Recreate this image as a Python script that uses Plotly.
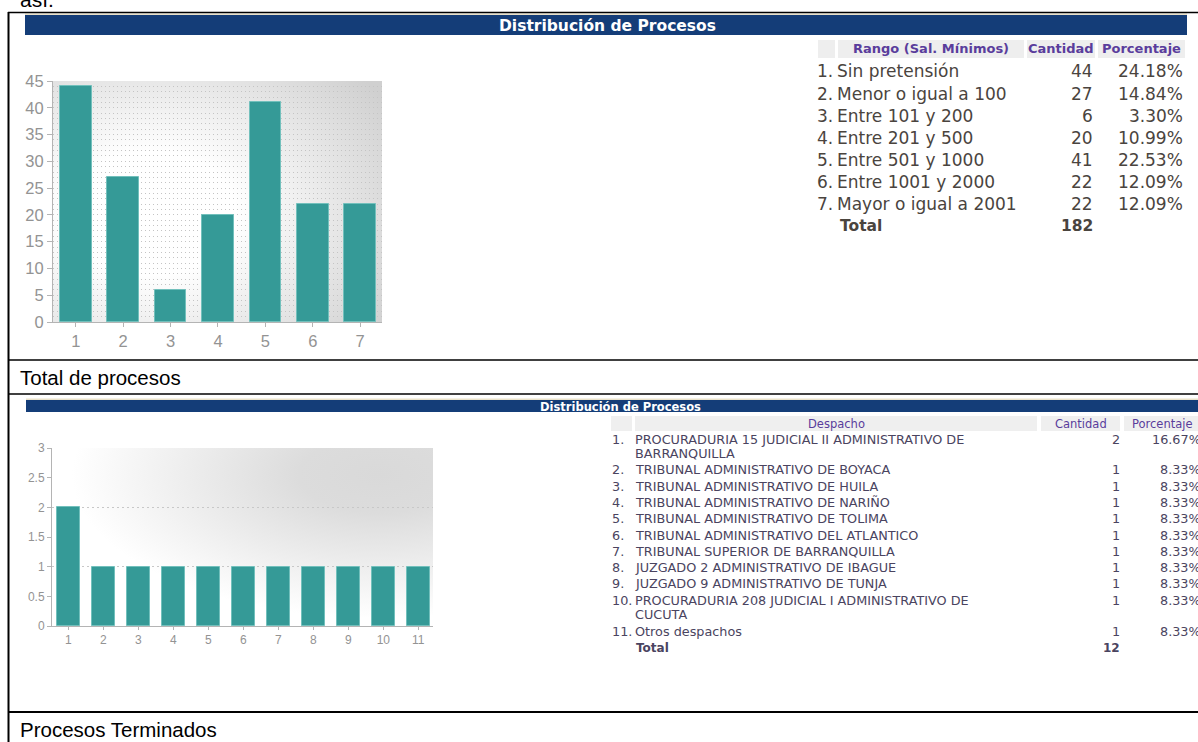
import base64
import plotly.graph_objects as go

W, H = 1198, 742

# ---------------- data ----------------
cat1 = [1, 2, 3, 4, 5, 6, 7]
rangos = ["Sin pretensión", "Menor o igual a 100", "Entre 101 y 200", "Entre 201 y 500",
          "Entre 501 y 1000", "Entre 1001 y 2000", "Mayor o igual a 2001"]
cantidad1 = [44, 27, 6, 20, 41, 22, 22]
porcentaje1 = ["24.18%", "14.84%", "3.30%", "10.99%", "22.53%", "12.09%", "12.09%"]
total1 = 182

cat2 = [1, 2, 3, 4, 5, 6, 7, 8, 9, 10, 11]
despachos = [["PROCURADURIA 15 JUDICIAL II ADMINISTRATIVO DE", "BARRANQUILLA"],
             ["TRIBUNAL ADMINISTRATIVO DE BOYACA"],
             ["TRIBUNAL ADMINISTRATIVO DE HUILA"],
             ["TRIBUNAL ADMINISTRATIVO DE NARIÑO"],
             ["TRIBUNAL ADMINISTRATIVO DE TOLIMA"],
             ["TRIBUNAL ADMINISTRATIVO DEL ATLANTICO"],
             ["TRIBUNAL SUPERIOR DE BARRANQUILLA"],
             ["JUZGADO 2 ADMINISTRATIVO DE IBAGUE"],
             ["JUZGADO 9 ADMINISTRATIVO DE TUNJA"],
             ["PROCURADURIA 208 JUDICIAL I ADMINISTRATIVO DE", "CUCUTA"],
             ["Otros despachos"]]
cantidad2 = [2, 1, 1, 1, 1, 1, 1, 1, 1, 1, 1]
porcentaje2 = ["16.67%", "8.33%", "8.33%", "8.33%", "8.33%", "8.33%", "8.33%",
               "8.33%", "8.33%", "8.33%", "8.33%"]
total2 = 12

title_txt = "Distribución de Procesos"
hdr1 = ["Rango (Sal. Mínimos)", "Cantidad", "Porcentaje"]
hdr2 = ["Despacho", "Cantidad", "Porcentaje"]

# ---------------- helpers ----------------
def X(p):
    return p / W


def Y(p):
    return 1 - p / H


BAR = "#359a97"
BAR_LINE = "#72c0bc"
AXC = "#b4b4b4"
TICKC = "#939393"
NAVY = "#143d78"
PURPLE = "#5a3d9c"
TXT1 = "#4a443e"
TXT2 = "#4a4460"
VER = "DejaVu Sans"
ARIAL = "Liberation Sans, Arial"

fig = go.Figure()
fig.add_trace(go.Bar(x=cat1, y=cantidad1, width=0.67, marker=dict(color=BAR, line=dict(color=BAR_LINE, width=1)),
                     xaxis="x", yaxis="y", showlegend=False))
fig.add_trace(go.Bar(x=cat2, y=cantidad2, width=0.65, marker=dict(color=BAR, line=dict(color=BAR_LINE, width=1)),
                     xaxis="x2", yaxis="y2", showlegend=False))

shapes = []
annotations = []


def rect(x0, y0, x1, y1, color):
    shapes.append(dict(type="rect", xref="paper", yref="paper", x0=X(x0), x1=X(x1), y0=Y(y1), y1=Y(y0),
                       fillcolor=color, line=dict(width=0), layer="below"))


def line(x0, y0, x1, y1, w=1.5, color="#000000"):
    shapes.append(dict(type="line", xref="paper", yref="paper", x0=X(x0), x1=X(x1), y0=Y(y0), y1=Y(y1),
                       line=dict(color=color, width=w)))


def ann(text, x, y, xa="left", ya="middle", size=12, color="#000", family=VER, bold=False):
    annotations.append(dict(text=f"<b>{text}</b>" if bold else text, x=X(x), y=Y(y), xref="paper", yref="paper",
                            xanchor=xa, yanchor=ya, showarrow=False, align=xa if xa != "center" else "center",
                            font=dict(size=size, color=color, family=family)))


# document borders
line(8.5, 12, 8.5, 742, w=2)
line(8, 12.5, 1198, 12.5, w=1.5)
line(8, 360, 1198, 360, w=1.5)
line(8, 394, 1198, 394, w=1.5)
line(8, 712, 1198, 712, w=2)

# surrounding document text
ann("así.", 18, 13, ya="bottom", size=21, color="#000", family=ARIAL)
ann("Total de procesos", 18, 377, size=20.5, color="#000", family=ARIAL)
ann("Procesos Terminados", 18, 729, size=20.5, color="#000", family=ARIAL)

# header bars
rect(25, 13.5, 1187, 15.5, "#e9e1c9")
rect(25, 15, 1187, 35, NAVY)
ann(title_txt, 607, 26, xa="center", size=15.5, color="#ffffff", bold=True)
rect(26, 398.5, 1198, 400.5, "#e9e1c9")
rect(26, 400, 1198, 412, NAVY)
ann(title_txt, 620, 406.5, xa="center", size=11.5, color="#ffffff", bold=True)

# ---------- table 1 ----------
rect(818, 40, 835, 58, "#eeeeee")
rect(838, 40, 1024, 58, "#eeeeee")
rect(1027, 40, 1095, 58, "#eeeeee")
rect(1098, 40, 1185, 58, "#eeeeee")
ann(hdr1[0], 931, 49, xa="center", size=13, color=PURPLE, bold=True)
ann(hdr1[1], 1061, 49, xa="center", size=13, color=PURPLE, bold=True)
ann(hdr1[2], 1141, 49, xa="center", size=13, color=PURPLE, bold=True)
y0 = 71.5
step = 22.1
FS1 = 17
for i, (r, c, p) in enumerate(zip(rangos, cantidad1, porcentaje1)):
    yy = y0 + i * step
    ann(f"{i + 1}.", 815, yy, size=FS1, color=TXT1)
    ann(r, 835, yy, size=FS1, color=TXT1)
    ann(str(c), 1095, yy, xa="right", size=FS1, color=TXT1)
    ann(p, 1185, yy, xa="right", size=FS1, color=TXT1)
yy = y0 + len(rangos) * step
ann("Total", 838, yy, size=15.5, color=TXT1, bold=True)
ann(str(total1), 1095, yy, xa="right", size=15.5, color=TXT1, bold=True)

# ---------- table 2 ----------
rect(611, 416, 632, 431, "#efefef")
rect(635, 416, 1037, 431, "#efefef")
rect(1041, 416, 1120, 431, "#efefef")
rect(1124, 416, 1200, 431, "#efefef")
ann(hdr2[0], 836, 423.5, xa="center", size=11.5, color=PURPLE)
ann(hdr2[1], 1081, 423.5, xa="center", size=11.5, color=PURPLE)
ann(hdr2[2], 1162, 423.5, xa="center", size=11.5, color=PURPLE)
yc = 439
FS2 = 12.8
for i, (d, c, p) in enumerate(zip(despachos, cantidad2, porcentaje2)):
    ann(f"{i + 1}.", 610, yc, size=FS2, color=TXT2)
    for k, part in enumerate(d):
        ann(part, 633, yc + k * 14.4, size=FS2, color=TXT2)
    ann(str(c), 1122, yc, xa="right", size=FS2, color=TXT2)
    ann(p, 1203, yc, xa="right", size=FS2, color=TXT2)
    yc += 16.3 + 14.6 * (len(d) - 1)
ann("Total", 634, yc + 1, size=FS2 - 0.8, color=TXT2, bold=True)
ann(str(total2), 1122, yc + 1, xa="right", size=FS2 - 0.8, color=TXT2, bold=True)


# ---------- background gradients ----------
def svg_uri(svg):
    return "data:image/svg+xml;base64," + base64.b64encode(svg.encode()).decode()


svg1 = ('<svg xmlns="http://www.w3.org/2000/svg" width="330" height="241" viewBox="0 0 1 1" preserveAspectRatio="none">'
        '<defs><radialGradient id="g" cx="0.3" cy="0.55" r="0.85">'
        '<stop offset="0" stop-color="#ffffff"/><stop offset="0.3" stop-color="#ffffff"/>'
        '<stop offset="1" stop-color="#d0d0d0"/></radialGradient></defs>'
        '<rect x="0" y="0" width="1" height="1" fill="url(#g)"/></svg>')
svg2 = ('<svg xmlns="http://www.w3.org/2000/svg" width="381" height="178" viewBox="0 0 1 1" preserveAspectRatio="none">'
        '<defs><radialGradient id="g" cx="0.86" cy="0.15" r="0.85">'
        '<stop offset="0" stop-color="#d9d9d9"/><stop offset="0.25" stop-color="#dcdcdc"/>'
        '<stop offset="0.95" stop-color="#ffffff"/></radialGradient></defs>'
        '<rect x="0" y="0" width="1" height="1" fill="url(#g)"/></svg>')

images = [
    dict(source=svg_uri(svg1), xref="x domain", yref="y domain", x=0, y=1, sizex=1, sizey=1,
         xanchor="left", yanchor="top", sizing="stretch", layer="below"),
    dict(source=svg_uri(svg2), xref="x2 domain", yref="y2 domain", x=0, y=1, sizex=1, sizey=1,
         xanchor="left", yanchor="top", sizing="stretch", layer="below"),
]

fig.update_layout(
    width=W, height=H, margin=dict(l=0, r=0, t=0, b=0, pad=0, autoexpand=False),
    paper_bgcolor="#ffffff", plot_bgcolor="rgba(0,0,0,0)", showlegend=False,
    bargap=0, shapes=shapes, annotations=annotations, images=images,
    xaxis=dict(domain=[X(53), X(382)], range=[0.52, 7.46], tickvals=cat1, showline=True, linecolor=AXC,
               ticks="outside", ticklen=4, tickcolor=AXC, showgrid=False, zeroline=False, automargin=False,
               tickfont=dict(size=16.5, color=TICKC, family=ARIAL), anchor="y", fixedrange=True),
    yaxis=dict(domain=[Y(322), Y(81)], range=[0, 45], dtick=5, showline=True, linecolor=AXC,
               ticks="outside", ticklen=5, tickcolor=AXC, showgrid=True, gridcolor="#c4c4c4",
               griddash="1px,3px", gridwidth=1, zeroline=False, automargin=False,
               minor=dict(dtick=1, showgrid=True, gridcolor="#c4c4c4", griddash="1px,3px", ticklen=0),
               tickfont=dict(size=16.5, color=TICKC, family=ARIAL), anchor="x", fixedrange=True),
    xaxis2=dict(domain=[X(52), X(433)], range=[0.53, 11.42], tickvals=cat2, showline=True, linecolor=AXC,
                ticks="outside", ticklen=3, tickcolor=AXC, showgrid=False, zeroline=False, automargin=False,
                tickfont=dict(size=12, color=TICKC, family=ARIAL), anchor="y2", fixedrange=True),
    yaxis2=dict(domain=[Y(626), Y(448)], range=[0, 3], dtick=0.5, showline=True, linecolor=AXC,
                ticks="outside", ticklen=4, tickcolor=AXC, showgrid=False, zeroline=False, automargin=False,
                tickfont=dict(size=12, color=TICKC, family=ARIAL), anchor="x2", fixedrange=True),
    yaxis3=dict(overlaying="y2", range=[0, 3], dtick=1, showgrid=True, gridcolor="#c8c8c8",
                griddash="2px,3px", showticklabels=False, ticks="", zeroline=False, showline=False,
                automargin=False, anchor="x2", fixedrange=True),
)
fig.add_trace(go.Scatter(x=[], y=[], xaxis="x2", yaxis="y3", showlegend=False))

fig.write_html("out.html", config={"displayModeBar": False},
               post_script="document.body.style.margin='0';document.body.style.overflow='hidden';")
